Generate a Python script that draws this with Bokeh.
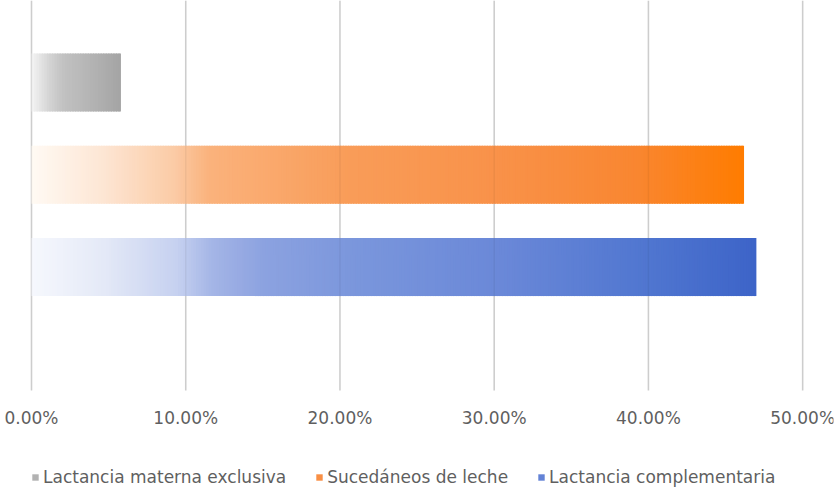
from bokeh.plotting import figure
from bokeh.models import Range1d, FixedTicker, ColumnDataSource, Legend, LegendItem
from bokeh.embed import file_html
from bokeh.resources import INLINE

# ---- data ----
categories = ["Lactancia materna exclusiva", "Sucedáneos de leche", "Lactancia complementaria"]
values = [5.8, 46.2, 47.0]  # percent
tick_values = [0, 10, 20, 30, 40, 50]
tick_labels = ["0.00%", "10.00%", "20.00%", "30.00%", "40.00%", "50.00%"]

# ---- styling: gradient stops (position along bar, colour) ----
gradients = [
    [(0.0, "#f4f4f4"), (0.2, "#d4d4d4"), (0.35, "#c2c2c2"), (0.7, "#b2b2b2"), (1.0, "#a4a4a4")],
    [(0.0, "#fffaf4"), (0.1, "#fde6d4"), (0.2, "#fbcba6"), (0.25, "#fab27c"), (0.45, "#f99c58"),
     (0.65, "#f9924a"), (0.85, "#f98630"), (1.0, "#ff7c00")],
    [(0.0, "#f6f8fd"), (0.1, "#e4e9f7"), (0.2, "#c6d1f0"), (0.25, "#a4b5e6"), (0.32, "#8ca2e0"),
     (0.45, "#7a96dc"), (0.65, "#6a88d8"), (0.85, "#5076d0"), (1.0, "#3d64c8")],
]
TEXT = "#5f5f5f"
FONT = "DejaVu Sans"
FONT_SIZE = "17px"

# layout of the value axis inside the frame
Y_TOP = 3.889        # top of frame
AXIS_Y = -0.339      # where the category area ends (axis baseline)
Y_BOTTOM = -1.423    # bottom of frame (room for tick labels and legend)


def hex2rgb(h):
    h = h.lstrip("#")
    return tuple(int(h[i:i + 2], 16) for i in (0, 2, 4))


def interp(stops, t):
    for (t0, c0), (t1, c1) in zip(stops[:-1], stops[1:]):
        if t <= t1:
            f = 0 if t1 == t0 else (t - t0) / (t1 - t0)
            a, b = hex2rgb(c0), hex2rgb(c1)
            r = [round(a[k] + (b[k] - a[k]) * f) for k in range(3)]
            return "#%02x%02x%02x" % tuple(r)
    return stops[-1][1]


p = figure(width=839, height=490, output_backend="svg", toolbar_location=None,
           x_range=Range1d(-2.01, 52), y_range=Range1d(Y_BOTTOM, Y_TOP),
           min_border_left=0, min_border_right=6, min_border_top=0, min_border_bottom=0)
p.outline_line_color = None
p.background_fill_color = "white"
p.border_fill_color = "white"

p.yaxis.visible = False
p.ygrid.visible = False
p.xgrid.visible = False

# value axis drawn at the bottom of the category area
p.xaxis.fixed_location = AXIS_Y
p.xaxis.ticker = FixedTicker(ticks=tick_values)
p.xaxis.major_label_overrides = {v: s for v, s in zip(tick_values, tick_labels)}
p.xaxis.axis_line_color = None
p.xaxis.major_tick_line_color = None
p.xaxis.minor_tick_line_color = None
p.xaxis.major_tick_out = 0
p.xaxis.major_tick_in = 0
p.xaxis.major_label_standoff = 17
p.xaxis.major_label_text_font = FONT
p.xaxis.major_label_text_font_size = FONT_SIZE
p.xaxis.major_label_text_color = TEXT

# vertical gridlines at the tick values, spanning the category area
nt = len(tick_values)
p.segment(x0=tick_values, x1=tick_values, y0=[AXIS_Y] * nt, y1=[Y_TOP] * nt,
          line_color="#d9d9d9", line_width=1.6, level="underlay")

items = []
n = len(categories)
for i, (cat, val, stops) in enumerate(zip(categories, values, gradients)):
    y = n - i
    m = max(20, int(round(val * 6)))
    step = val / m
    lefts = [step * k for k in range(m)]
    rights = [min(val, step * (k + 1) + step * 0.5) for k in range(m)]
    cols = [interp(stops, (k + 0.5) / m) for k in range(m)]
    src = ColumnDataSource(dict(y=[y] * m, left=lefts, right=rights, color=cols))
    r = p.hbar(y="y", left="left", right="right", height=0.63, source=src,
               fill_color="color", line_color=None)
    items.append(LegendItem(label=cat, renderers=[r], index=int(m * 0.7)))

# faint gridline trace showing through the bars
p.segment(x0=tick_values, x1=tick_values, y0=[AXIS_Y] * nt, y1=[Y_TOP] * nt,
          line_color="#000000", line_alpha=0.05, line_width=1.6, level="overlay")

legend = Legend(items=items, orientation="horizontal", location=(31, 3),
                border_line_color=None, background_fill_alpha=0,
                padding=0, margin=0, spacing=29,
                glyph_width=8, glyph_height=8, label_standoff=4, label_height=17,
                label_text_font=FONT, label_text_font_size=FONT_SIZE,
                label_text_color=TEXT)
p.add_layout(legend)

open("out.html", "w").write(file_html(p, INLINE))
